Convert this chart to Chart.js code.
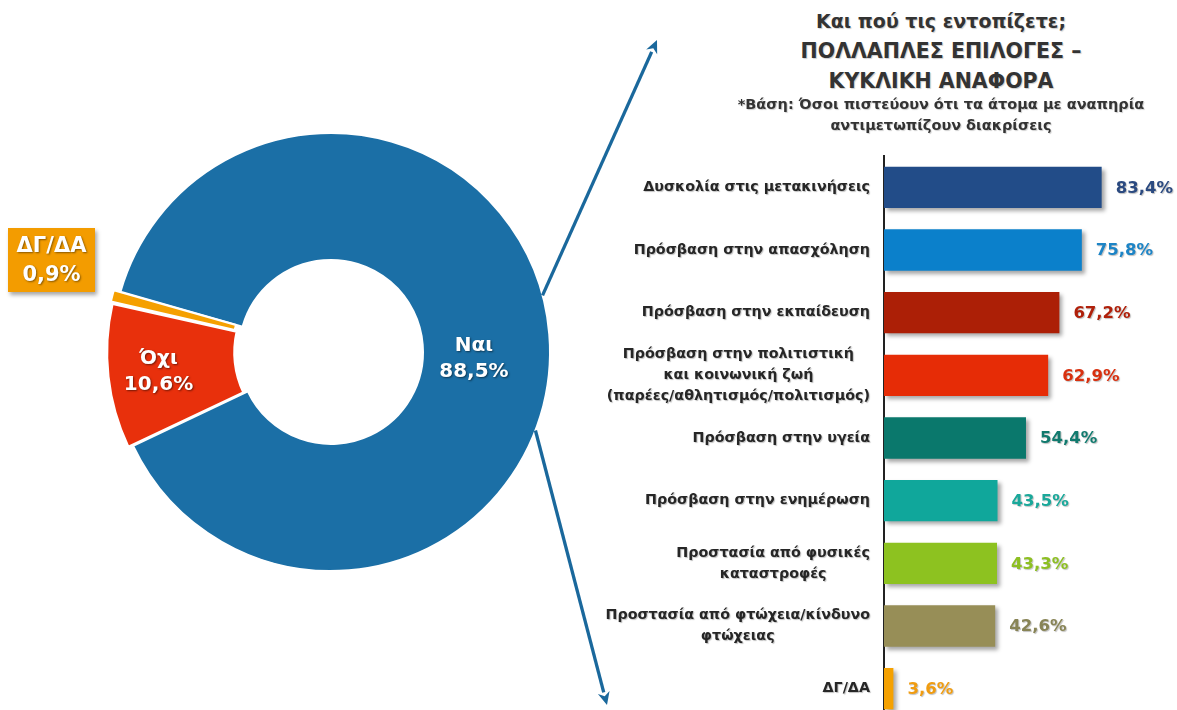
<!DOCTYPE html>
<html lang="el">
<head>
<meta charset="utf-8">
<script src="https://cdn.jsdelivr.net/npm/chart.js@4.4.1/dist/chart.umd.min.js"></script>
<style>
  html, body { margin: 0; padding: 0; width: 1177px; height: 710px; overflow: hidden; background: #fff; }
  body { position: relative; font-family: "DejaVu Sans", sans-serif; }
  #pieWrap { position: absolute; left: 0; top: 0; width: 700px; height: 710px; }
  #barWrap { position: absolute; left: 580px; top: 140px; width: 597px; height: 580px; }
  .title { position: absolute; left: 700px; width: 482px; text-align: center; color: #333; font-weight: bold;
           text-shadow: 1px 1px 1px rgba(0,0,0,.2); white-space: nowrap; }
  .t1 { top: 6px; font-size: 19px; line-height: 30px; }
  .t1 .caps { font-size: 20.5px; }
  .t2 { top: 94px; font-size: 14.5px; line-height: 21px; }
  .dkBox { position: absolute; left: 8px; top: 228px; width: 87px; height: 64px; background: #f39c00;
           box-shadow: 2px 3px 4px rgba(0,0,0,.35); color: #fff; font-weight: bold; font-size: 21px;
           text-align: center; line-height: 29px; padding-top: 3px; box-sizing: border-box;
           text-shadow: 1px 1px 2px rgba(0,0,0,.45); }
</style>
</head>
<body>
<div id="pieWrap"><canvas id="pieChart"></canvas></div>
<div id="barWrap"><canvas id="barChart"></canvas></div>
<div class="title t1">Και πού τις εντοπίζετε;<br><span class="caps">ΠΟΛΛΑΠΛΕΣ ΕΠΙΛΟΓΕΣ –<br>ΚΥΚΛΙΚΗ ΑΝΑΦΟΡΑ</span></div>
<div class="title t2">*Βάση: Όσοι πιστεύουν ότι τα άτομα με αναπηρία<br>αντιμετωπίζουν διακρίσεις</div>
<div class="dkBox" id="dkBox"></div>
<script>
const pieLabels = ["Ναι", "Όχι", "ΔΓ/ΔΑ"];
const pieValues = [88.5, 10.6, 0.9];
const pieColors = ["#1b6fa6", "#e8300c", "#f5a000"];

const barLabels = [
  ["Δυσκολία στις μετακινήσεις"],
  ["Πρόσβαση στην απασχόληση"],
  ["Πρόσβαση στην εκπαίδευση"],
  ["Πρόσβαση στην πολιτιστική", "και κοινωνική ζωή", "(παρέες/αθλητισμός/πολιτισμός)"],
  ["Πρόσβαση στην υγεία"],
  ["Πρόσβαση στην ενημέρωση"],
  ["Προστασία από φυσικές", "καταστροφές"],
  ["Προστασία από φτώχεια/κίνδυνο", "φτώχειας"],
  ["ΔΓ/ΔΑ"],
];
const barValues = [83.4, 75.8, 67.2, 62.9, 54.4, 43.5, 43.3, 42.6, 3.6];
const barColors = ["#224c88", "#0b80cb", "#ac1f06", "#e62c06", "#0a786c", "#10a79b", "#8dc220", "#978e57", "#f5a100"];
const valueColors = ["#2b4a80", "#1c84c6", "#b0200a", "#d8300f", "#117a6e", "#1aa89a", "#8dbf22", "#888456", "#f09c10"];

const FONT = '"DejaVu Sans", sans-serif';
const fmt = (v) => `${v.toFixed(1).replace(".", ",")}%`;

document.getElementById("dkBox").innerHTML = `${pieLabels[2]}<br>${fmt(pieValues[2])}`;

// arrows from the ring edge towards the bar chart
const arrowPlugin = {
  id: "arrows",
  afterDraw(chart) {
    const arc = chart.getDatasetMeta(0).data[0];
    if (!arc) return;
    const { x, y, outerRadius } = arc.getProps(["x", "y", "outerRadius"], true);
    const ctx = chart.ctx;
    const arrows = [
      { from: -15, tip: [657, 40] },
      { from: 21, tip: [607, 705] },
    ];
    ctx.save();
    ctx.strokeStyle = "#1a689c";
    ctx.fillStyle = "#1a689c";
    ctx.lineWidth = 3.3;
    for (const a of arrows) {
      const ang = a.from * Math.PI / 180;
      const sx = x + Math.cos(ang) * outerRadius;
      const sy = y + Math.sin(ang) * outerRadius;
      const [tx, ty] = a.tip;
      const dir = Math.atan2(ty - sy, tx - sx);
      const len = 13, half = 6;
      const bx = tx - Math.cos(dir) * len, by = ty - Math.sin(dir) * len;
      ctx.beginPath();
      ctx.moveTo(sx, sy);
      ctx.lineTo(bx, by);
      ctx.stroke();
      ctx.beginPath();
      ctx.moveTo(tx, ty);
      ctx.lineTo(bx + Math.cos(dir + Math.PI / 2) * half, by + Math.sin(dir + Math.PI / 2) * half);
      ctx.lineTo(tx - Math.cos(dir) * (len - 4), ty - Math.sin(dir) * (len - 4));
      ctx.lineTo(bx - Math.cos(dir + Math.PI / 2) * half, by - Math.sin(dir + Math.PI / 2) * half);
      ctx.closePath();
      ctx.fill();
    }
    ctx.restore();
  },
};

const pieLabelPlugin = {
  id: "pieLabels",
  afterDatasetsDraw(chart) {
    const ctx = chart.ctx;
    const nudges = [[-12, 20], [-11, 2]];
    ctx.save();
    ctx.font = `bold 20px ${FONT}`;
    ctx.fillStyle = "#fff";
    ctx.textAlign = "center";
    ctx.textBaseline = "middle";
    ctx.shadowColor = "rgba(0,0,0,.5)";
    ctx.shadowBlur = 2;
    ctx.shadowOffsetX = 1;
    ctx.shadowOffsetY = 1;
    chart.getDatasetMeta(0).data.slice(0, 2).forEach((arc, i) => {
      const p = arc.tooltipPosition(true);
      const cx = p.x + nudges[i][0], cy = p.y + nudges[i][1];
      ctx.fillText(pieLabels[i], cx, cy - 13);
      ctx.fillText(fmt(pieValues[i]), cx, cy + 13);
    });
    ctx.restore();
  },
};

new Chart(document.getElementById("pieChart"), {
  type: "doughnut",
  data: {
    labels: pieLabels,
    datasets: [{
      data: pieValues,
      backgroundColor: pieColors,
      borderColor: "#fff",
      borderWidth: 2,
      offset: [0, 14, 14],
    }],
  },
  options: {
    responsive: true,
    maintainAspectRatio: false,
    animation: false,
    rotation: -74,
    radius: 219,
    cutout: "42%",
    layout: { padding: { left: 0, right: 38, top: 2, bottom: 8 } },
    plugins: { legend: { display: false }, tooltip: { enabled: false } },
  },
  plugins: [pieLabelPlugin, arrowPlugin],
});

const barShadow = {
  id: "barShadow",
  beforeDatasetsDraw(chart) {
    const ctx = chart.ctx;
    ctx.save();
    ctx.shadowColor = "rgba(0,0,0,.35)";
    ctx.shadowBlur = 4;
    ctx.shadowOffsetX = 3;
    ctx.shadowOffsetY = 3;
  },
  afterDatasetsDraw(chart) {
    chart.ctx.restore();
  },
};

const barTextPlugin = {
  id: "barText",
  afterDatasetsDraw(chart) {
    const ctx = chart.ctx;
    const yScale = chart.scales.y;
    const left = chart.chartArea.left;
    const lineH = 21;
    ctx.save();
    ctx.textBaseline = "middle";
    ctx.shadowColor = "rgba(0,0,0,.25)";
    ctx.shadowBlur = 1;
    ctx.shadowOffsetX = 1;
    ctx.shadowOffsetY = 1;
    // category labels, lines centred on each other, block right-aligned to the axis
    ctx.font = `bold 14.3px ${FONT}`;
    ctx.fillStyle = "#262626";
    ctx.textAlign = "center";
    barLabels.forEach((lines, i) => {
      const yc = yScale.getPixelForValue(i);
      const w = Math.max(...lines.map((l) => ctx.measureText(l).width));
      const cx = left - 14 - w / 2;
      lines.forEach((l, k) => {
        ctx.fillText(l, cx, yc + (k - (lines.length - 1) / 2) * lineH);
      });
    });
    // values at bar ends
    ctx.font = `bold 16.5px ${FONT}`;
    ctx.textAlign = "left";
    chart.getDatasetMeta(0).data.forEach((bar, i) => {
      ctx.fillStyle = valueColors[i];
      ctx.fillText(fmt(barValues[i]), bar.x + 14, bar.y + 1);
    });
    ctx.restore();
  },
};

new Chart(document.getElementById("barChart"), {
  type: "bar",
  data: {
    labels: barLabels,
    datasets: [{
      data: barValues,
      backgroundColor: barColors,
      categoryPercentage: 1,
      barPercentage: 0.66,
    }],
  },
  options: {
    indexAxis: "y",
    responsive: true,
    maintainAspectRatio: false,
    animation: false,
    layout: { padding: { left: 304, right: 32, top: 16, bottom: 0 } },
    scales: {
      x: { display: false, min: 0, max: 100 },
      y: {
        ticks: { display: false },
        grid: { display: false, drawTicks: false },
        border: { display: true, color: "#222", width: 2 },
        afterFit(scale) { scale.width = 0; },
      },
    },
    plugins: { legend: { display: false }, tooltip: { enabled: false } },
  },
  plugins: [barShadow, barTextPlugin],
});
</script>
</body>
</html>
